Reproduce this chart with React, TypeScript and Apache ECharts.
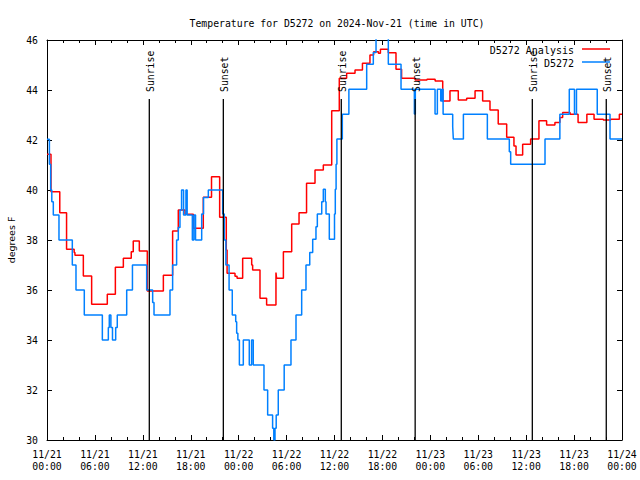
import React, { useEffect, useRef } from "react";
import * as echarts from "echarts";

// Hours since 2024-11-21 00:00 UTC at which each value begins
const analysisHours = [
  0, 0.5, 1.6, 2.45, 3.4, 3.5, 4.55, 5.59, 7.55, 8.56, 9.56, 10.55, 10.8, 11.56, 12.56,
  14.57, 15.73, 16.44, 17.28, 18.32, 19.57, 20.6, 21.62, 22.45, 22.55, 23.54, 23.8, 24.5,
  25.63, 25.75, 26.67, 27.5, 28.67, 28.75, 29.6, 30.64, 31.56, 32.5, 33.56, 34.6, 35.65,
  36.6, 37.52, 38.57, 39.5, 40.44, 40.9, 41.5, 41.75, 42.74, 43.7, 44.4, 46.1, 47.58, 48.6,
  49.55, 50.46, 51.5, 52.55, 53.6, 54.55, 55.47, 56.5, 57.56, 58.47, 58.73, 59.56, 60.56,
  61.6, 62.56, 63.6, 64.22, 64.57, 65.5, 66.5, 67.6, 68.5, 69.66, 70.58, 71.67, 72,
];
const analysisTemps = [
  41.43, 39.93, 39.09, 37.63, 37.5, 37.39, 36.56, 35.43, 35.83, 36.91, 37.27, 37.53, 37.96, 37.56, 35.96,
  36.59, 38.36, 39.2, 39.03, 38.47, 39.71, 40.53, 38.91, 37.6, 36.67, 36.55, 36.47, 37.27,
  37.0, 36.8, 35.67, 35.4, 36.7, 36.47, 37.53, 38.64, 39.09, 40.27, 40.8, 41.0, 43.17,
  44.47, 44.67, 44.8, 45.07, 45.4, 45.53, 45.47, 45.63, 45.49, 44.83, 44.47, 44.4, 44.43, 44.36,
  43.56, 43.97, 43.6, 43.67, 43.97, 43.56, 43.2, 42.64, 42.11, 41.76, 41.4, 41.83, 42.04,
  42.77, 42.6, 42.7, 42.9, 43.1, 43.03, 42.7, 43.03, 42.83, 42.8, 42.83, 43.03, 43.03,
];

const obsHours = [
  0, 0.3, 0.46, 0.6, 0.79, 1.5, 3.17, 3.63, 4.67, 6.93, 7.68, 7.8, 8.0, 8.2, 8.6, 8.8, 9.98,
  10.7, 12.48, 13.23, 13.4, 15.4, 15.73, 16.23, 16.44, 16.65, 16.85, 17.1, 17.4, 17.55, 18.2,
  18.4, 18.6, 19.37, 19.6, 20.2, 22.0, 22.2, 22.4, 22.8, 23.2, 23.63, 23.75, 23.9, 24.09,
  24.58, 25.33, 25.62, 25.83, 27.17, 27.63, 28.25, 28.4, 28.55, 28.7, 28.96, 29.7, 30.55,
  31.18, 31.89, 32.43, 32.9, 33.27, 33.68, 33.85, 34.4, 34.6, 34.85, 34.94, 35.35, 36.0,
  36.1, 36.2, 36.3, 36.98, 37.8, 40.03, 40.86, 41.2, 42.74, 44.33, 46.0, 46.12, 48.59,
  48.88, 49.3, 49.45, 49.6, 50.8, 50.88, 52.14, 55.14, 57.89, 58.06, 62.36, 64.22, 65.4,
  66.05, 66.3, 68.9, 70.5, 72,
];
const obsTemps = [
  42.03, 41.03, 40.0, 39.53, 39.0, 38.0, 37.0, 36.0, 35.0, 34.0, 34.5, 35.0, 34.5, 34.0, 34.5, 35.0, 36.0,
  37.0, 36.0, 35.5, 35.0, 36.0, 37.0, 38.0, 38.5, 39.2, 40.0, 39.0, 40.0, 39.0, 38.0,
  39.0, 38.0, 39.04, 39.7, 40.0, 39.04, 38.0, 37.0, 36.0, 35.0, 34.73, 34.27, 34.0, 33.0,
  34.0, 33.0, 34.0, 33.0, 32.0, 31.0, 30.47, 30.0, 30.47, 31.0, 32.0, 33.0, 34.0,
  35.0, 36.0, 37.0, 37.5, 38.03, 38.53, 39.04, 39.53, 40.03, 39.53, 39.04, 38.03, 39.04,
  40.03, 41.03, 42.04, 43.03, 44.03, 45.03, 45.5, 46.5, 45.03, 44.03, 43.04, 44.03, 43.04,
  44.03, 43.56, 44.03, 43.03, 42.53, 42.04, 43.03, 42.04, 41.53, 41.03, 42.04, 43.03, 44.03,
  43.03, 44.03, 43.03, 42.04, 42.04,
];

const sunHours = [12.81, 22.08, 36.85, 46.1, 60.77, 70.03];
const sunLabels = ["Sunrise", "Sunset", "Sunrise", "Sunset", "Sunrise", "Sunset"];

const seriesNames = ["D5272 Analysis", "D5272"];
const seriesColors = ["#ff0000", "#0080ff"];
const titleText = "Temperature for D5272 on 2024-Nov-21 (time in UTC)";
const yAxisTitle = "degrees F";
const startDay = 21;
const monthLabel = "11";

const MONO = '"DejaVu Sans Mono", "Liberation Mono", monospace';
const SANS = '"DejaVu Sans", "Liberation Sans", sans-serif';

function pad(n: number) {
  return n < 10 ? "0" + n : String(n);
}

export default function App() {
  const ref = useRef<HTMLDivElement>(null);
  useEffect(() => {
    if (!ref.current) return;
    const chart = echarts.init(ref.current, undefined, { renderer: "svg" });
    const red = analysisHours.map((h, i) => [h, analysisTemps[i]]);
    const blue = obsHours.map((h, i) => [h, obsTemps[i]]);
    const axisCommon = {
      type: "value" as const,
      axisLine: { show: true, onZero: false, lineStyle: { color: "#000", width: 1 } },
      splitLine: { show: false },
    };
    const option: any = {
      animation: false,
      backgroundColor: "#fff",
      title: {
        text: titleText,
        left: 332,
        textAlign: "center",
        top: 13,
        textStyle: { fontFamily: MONO, fontSize: 9.8, fontWeight: "normal", color: "#000" },
      },
      grid: { left: 47, right: 18, top: 40, bottom: 40, containLabel: false },
      xAxis: [
        {
          ...axisCommon,
          position: "bottom",
          min: 0,
          max: 72,
          interval: 6,
          axisTick: { show: true, inside: true, length: 5, lineStyle: { color: "#000" } },
          minorTick: { show: true, splitNumber: 3, length: 3, lineStyle: { color: "#000" } },
          axisLabel: {
            show: true,
            showMinLabel: true,
            showMaxLabel: true,
            margin: 8,
            color: "#000",
            fontFamily: MONO,
            fontSize: 9.8,
            lineHeight: 12,
            formatter: (v: number) => {
              const day = startDay + Math.floor(v / 24);
              const hr = Math.round(v % 24);
              return monthLabel + "/" + day + "\n" + pad(hr) + ":00";
            },
          },
        },
        {
          ...axisCommon,
          position: "top",
          min: 0,
          max: 72,
          interval: 6,
          axisTick: { show: true, inside: true, length: 5, lineStyle: { color: "#000" } },
          minorTick: { show: true, splitNumber: 3, length: 3, lineStyle: { color: "#000" } },
          axisLabel: { show: false },
        },
      ],
      yAxis: [
        {
          ...axisCommon,
          position: "left",
          min: 30,
          max: 46,
          interval: 2,
          axisTick: { show: true, inside: true, length: 5, lineStyle: { color: "#000" } },
          axisLabel: { margin: 9, color: "#000", fontFamily: MONO, fontSize: 9.8 },
        },
        {
          ...axisCommon,
          position: "right",
          min: 30,
          max: 46,
          interval: 2,
          axisTick: { show: true, inside: true, length: 5, lineStyle: { color: "#000" } },
          axisLabel: { show: false },
        },
      ],
      series: [
        {
          name: seriesNames[0],
          type: "line",
          step: "end",
          data: red,
          symbol: "none",
          clip: true,
          lineStyle: { color: seriesColors[0], width: 1.5 },
          itemStyle: { color: seriesColors[0] },
          z: 3,
        },
        {
          name: seriesNames[1],
          type: "line",
          step: "end",
          data: blue,
          symbol: "none",
          clip: true,
          lineStyle: { color: seriesColors[1], width: 1.5 },
          itemStyle: { color: seriesColors[1] },
          z: 4,
        },
        {
          type: "custom",
          data: sunHours.map((h) => [h]),
          clip: false,
          z: 5,
          renderItem: (params: any, api: any) => {
            const h = api.value(0);
            const top = api.coord([h, 43.64]);
            const bot = api.coord([h, 30]);
            return {
              type: "group",
              children: [
                {
                  type: "line",
                  shape: { x1: top[0], y1: top[1], x2: bot[0], y2: bot[1] },
                  style: { stroke: "#000", lineWidth: 1.3 },
                },
                {
                  type: "text",
                  x: top[0] + 1,
                  y: top[1] - 7,
                  rotation: Math.PI / 2,
                  style: {
                    text: sunLabels[params.dataIndex],
                    fill: "#000",
                    font: "9.8px " + MONO,
                    align: "left",
                    verticalAlign: "middle",
                  },
                },
              ],
            };
          },
        },
      ],
      graphic: [
        {
          type: "text",
          x: 11,
          y: 240,
          rotation: Math.PI / 2,
          style: { text: yAxisTitle, fill: "#000", font: "9.5px " + SANS, align: "center", verticalAlign: "middle" },
        },
        {
          type: "text",
          x: 574,
          y: 50,
          style: { text: seriesNames[0], fill: "#000", font: "10px " + MONO, align: "right", verticalAlign: "middle" },
        },
        {
          type: "line",
          shape: { x1: 582, y1: 49, x2: 610, y2: 49 },
          style: { stroke: seriesColors[0], lineWidth: 1.5 },
        },
        {
          type: "text",
          x: 574,
          y: 63,
          style: { text: seriesNames[1], fill: "#000", font: "10px " + MONO, align: "right", verticalAlign: "middle" },
        },
        {
          type: "line",
          shape: { x1: 582, y1: 62, x2: 610, y2: 62 },
          style: { stroke: seriesColors[1], lineWidth: 1.5 },
        },
      ],
    };
    chart.setOption(option);
    return () => chart.dispose();
  }, []);
  return (
    <div
      ref={ref}
      style={{ position: "fixed", left: 0, top: 0, width: 640, height: 480, background: "#fff" }}
    />
  );
}
